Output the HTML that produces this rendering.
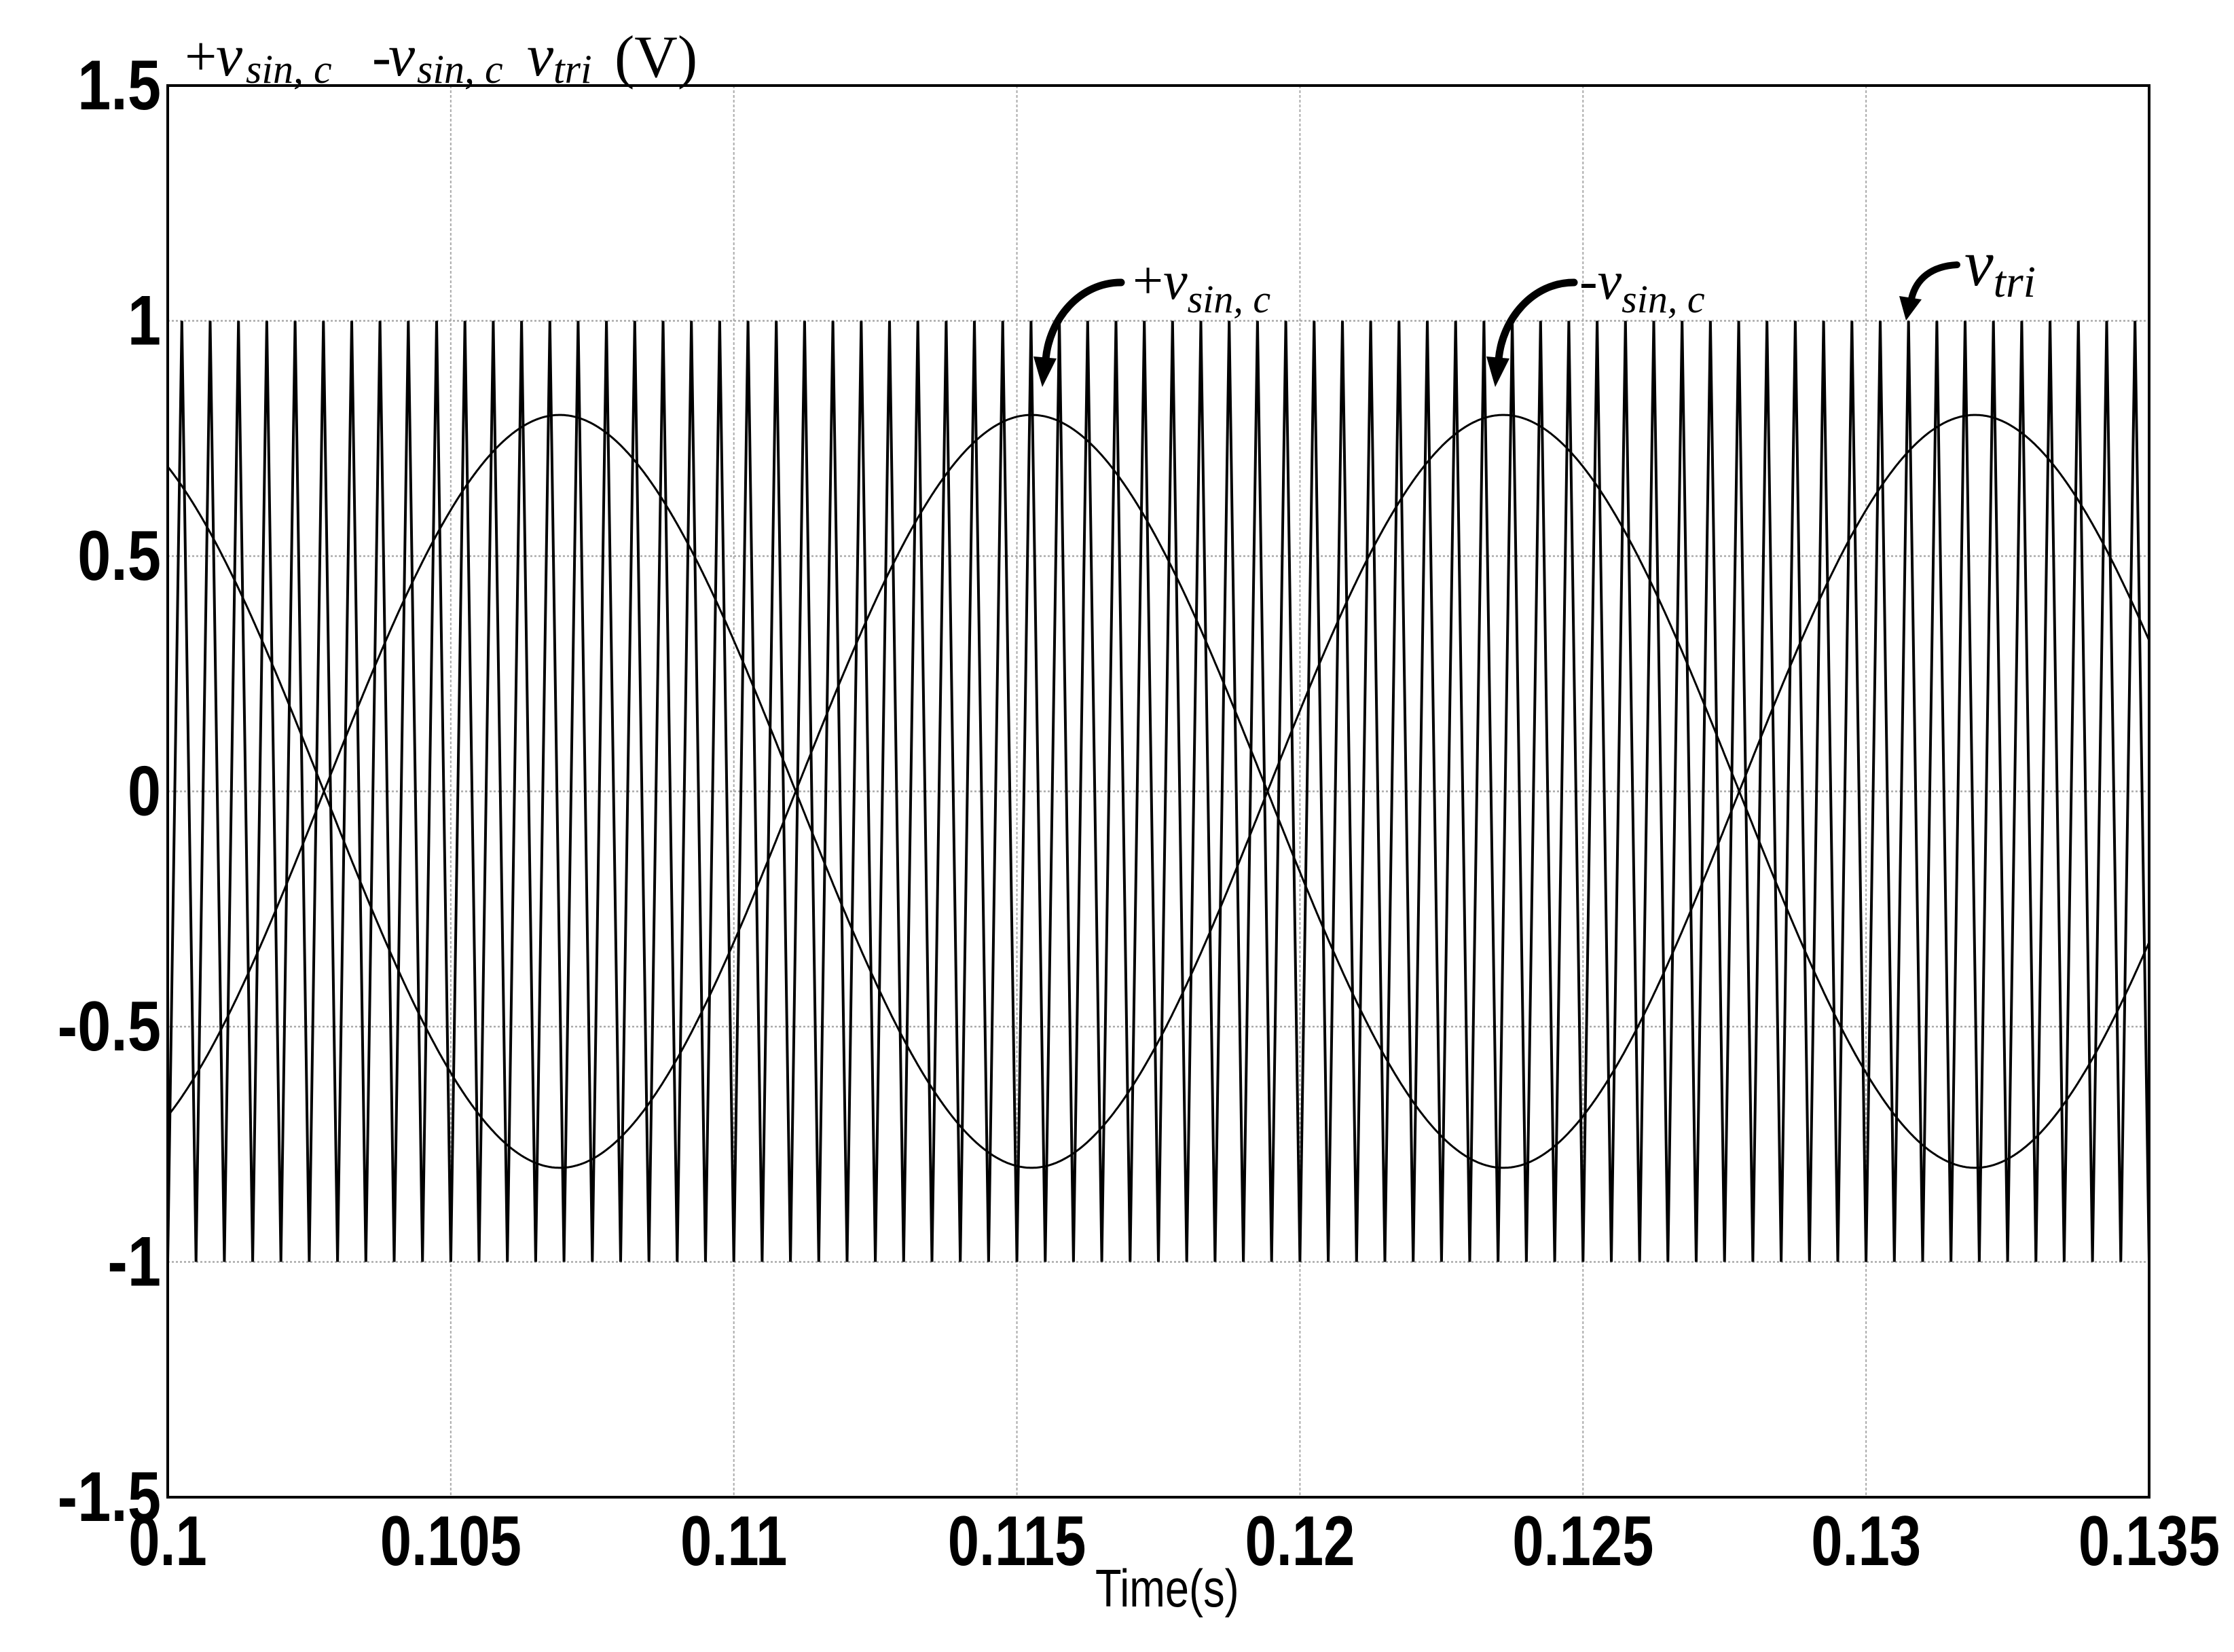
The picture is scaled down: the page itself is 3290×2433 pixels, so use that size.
<!DOCTYPE html>
<html><head><meta charset="utf-8"><style>
html,body{margin:0;padding:0;background:#fff;}
svg{display:block;}
.tick{font-family:"Liberation Sans",Arial,sans-serif;font-weight:bold;font-size:104px;fill:#000;}
.ser{font-family:"Liberation Serif","Times New Roman",serif;fill:#000;}
</style></head><body>
<svg id="chart" width="3290" height="2433" viewBox="0 0 3290 2433" xmlns="http://www.w3.org/2000/svg">
<rect width="3290" height="2433" fill="#fff"/>
<g id="grid"></g>
<g id="series"></g>
<g id="axes"></g>
<g id="labels"></g>
<g class="ser">
 <text x="272" y="111" font-size="84">+</text>
 <text x="318" y="111" font-size="88" font-style="italic">v</text>
 <text x="362" y="122" font-size="60" font-style="italic">sin, c</text>
 <text x="548" y="111" font-size="84">-</text>
 <text x="572" y="111" font-size="88" font-style="italic">v</text>
 <text x="614" y="122" font-size="60" font-style="italic">sin, c</text>
 <text x="776" y="111" font-size="88" font-style="italic">v</text>
 <text x="815" y="122" font-size="60" font-style="italic">tri</text>
 <text x="905" y="113" font-size="88">(V)</text>
</g>
<g>
 <text transform="translate(1613,2366) scale(0.81,1)" font-family="Liberation Sans, Arial, sans-serif" font-size="78">Time(s)</text>
</g>
<g>
 <path d="M1651,416 C1590,416 1545,470 1540,530" fill="none" stroke="#000" stroke-width="11" stroke-linecap="round"/>
 <polygon points="1522,525 1556,528 1535,570" fill="#000"/>
 <g class="ser"><text x="1668" y="440" font-size="80">+<tspan font-style="italic">v</tspan><tspan font-style="italic" font-size="58" dy="20">sin, c</tspan></text></g>
</g>
<g>
 <path d="M2318,416 C2257,416 2212,470 2207,530" fill="none" stroke="#000" stroke-width="11" stroke-linecap="round"/>
 <polygon points="2189,525 2223,528 2202,570" fill="#000"/>
 <g class="ser"><text x="2326" y="440" font-size="80">-<tspan font-style="italic">v</tspan><tspan font-style="italic" font-size="58" dy="20">sin, c</tspan></text></g>
</g>
<g>
 <path d="M2882,390 C2845,392 2822,410 2815,440" fill="none" stroke="#000" stroke-width="10" stroke-linecap="round"/>
 <polygon points="2797,436 2830,441 2807,472" fill="#000"/>
 <g class="ser"><text x="2893" y="420" font-size="96" font-style="italic">v<tspan font-size="66" dy="17">tri</tspan></text></g>
</g>
</svg>
<script>
// ---- data ----
const xTicks = [0.1, 0.105, 0.11, 0.115, 0.12, 0.125, 0.13, 0.135];
const xTickLabels = ["0.1","0.105","0.11","0.115","0.12","0.125","0.13","0.135"];
const yTicks = [1.5, 1, 0.5, 0, -0.5, -1, -1.5];
const yTickLabels = ["1.5","1","0.5","0","-0.5","-1","-1.5"];
const yGridValues = [1, 0.5, 0, -0.5, -1];
const carrierLevels = [1, -1];          // peak, valley
const carrierPeriod = [0.0005];         // s
const carrierFirstPeak = [0.10025];     // s
const sineAmplitude = [0.8, 0.8];       // +v, -v
const sineFreq = [60, 60];              // Hz
const sineZeroCross = [0.10276, 0.10276];
const sineSign = [1, -1];
const timeRange = [0.1, 0.135];
const voltRange = [-1.5, 1.5];

// ---- axes ----
const L = 247, R = 3165, T = 126, B = 2205;
const xs = t => L + (t - timeRange[0]) / (timeRange[1] - timeRange[0]) * (R - L);
const ys = v => B - (v - voltRange[0]) / (voltRange[1] - voltRange[0]) * (B - T);
const NS = "http://www.w3.org/2000/svg";
function mk(tag, attrs, parent) {
  const e = document.createElementNS(NS, tag);
  for (const k in attrs) e.setAttribute(k, attrs[k]);
  parent.appendChild(e);
  return e;
}
const grid = document.getElementById('grid');
const series = document.getElementById('series');
const axes = document.getElementById('axes');
const labels = document.getElementById('labels');

xTicks.forEach((t, i) => {
  if (i === 0 || i === xTicks.length - 1) return;
  const g = mk('line', {x1: xs(t), x2: xs(t), y1: T, y2: B, stroke: '#aaa', 'stroke-width': 2, 'stroke-dasharray': '4 3'}, grid);
  
  
});
yGridValues.forEach(v => {
  const g = mk('line', {x1: L, x2: R, y1: ys(v), y2: ys(v), stroke: '#aaa', 'stroke-width': 2.5, 'stroke-dasharray': '3 3'}, grid);
  
  
});

// carrier triangle
let pts = [];
const per = carrierPeriod[0];
let t0 = carrierFirstPeak[0];
while (t0 - per > timeRange[0]) t0 -= per;
const frac = (t0 - timeRange[0]) / (per / 2);
pts.push([timeRange[0], carrierLevels[0] + (carrierLevels[1] - carrierLevels[0]) * Math.min(1, frac)]);
for (let k = 0; ; k++) {
  const tp = t0 + k * per, tv = tp + per / 2;
  if (tp <= timeRange[1]) pts.push([tp, carrierLevels[0]]); else break;
  if (tv <= timeRange[1]) pts.push([tv, carrierLevels[1]]); else break;
}
const tri = mk('polyline', {points: pts.map(p => xs(p[0]).toFixed(1) + ',' + ys(p[1]).toFixed(1)).join(' '), fill: 'none', stroke: '#000', 'stroke-width': 4, 'stroke-linejoin': 'miter', 'stroke-miterlimit': 2}, series);



// sines
sineAmplitude.forEach((A, i) => {
  const p = [];
  for (let n = 0; n <= 1500; n++) {
    const t = timeRange[0] + (timeRange[1] - timeRange[0]) * n / 1500;
    const v = sineSign[i] * A * Math.sin(2 * Math.PI * sineFreq[i] * (t - sineZeroCross[i]));
    p.push(xs(t).toFixed(1) + ',' + ys(v).toFixed(1));
  }
  const pl = mk('polyline', {points: p.join(' '), fill: 'none', stroke: '#000', 'stroke-width': 3}, series);
  
  
});

// box
const bx = mk('rect', {x: L, y: T, width: R - L, height: B - T, fill: 'none', stroke: '#000', 'stroke-width': 4}, axes);



// tick labels
xTicks.forEach((t, i) => {
  const tx = mk('text', {class: 'tick', 'text-anchor': 'middle', transform: `translate(${xs(t)},2305) scale(0.8,1)`}, labels);
  tx.textContent = xTickLabels[i];
  
  
});
yTicks.forEach((v, i) => {
  const tx = mk('text', {class: 'tick', 'text-anchor': 'end', transform: `translate(237,${ys(v) + 35}) scale(0.85,1)`}, labels);
  tx.textContent = yTickLabels[i];
  
  
});
</script>
</body></html>
